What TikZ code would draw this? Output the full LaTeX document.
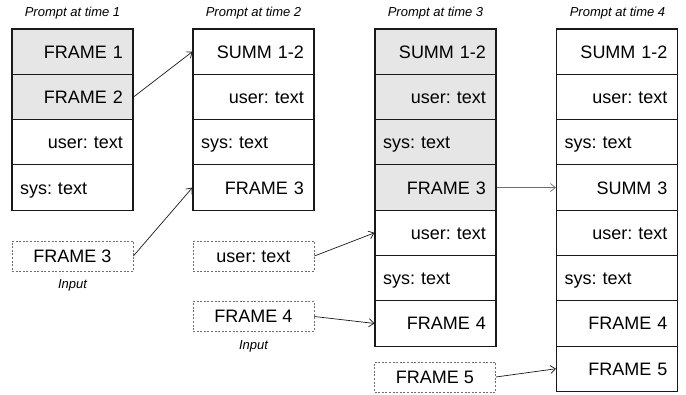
\documentclass[tikz,border=0pt]{standalone}
\usepackage{fontspec}
\setmainfont{Liberation Sans}
\frenchspacing
\usetikzlibrary{arrows.meta}
\definecolor{cellgray}{RGB}{230,230,230}
\definecolor{edgeink}{RGB}{25,25,25}
\definecolor{dashink}{RGB}{110,110,110}
\tikzset{
  cell/.style={draw=edgeink, line width=1.1pt, minimum width=121pt, minimum height=45.3pt,
    inner sep=0pt, font=\fontsize{18}{20}\selectfont, text height=13pt, text depth=0pt},
  rcell/.style={cell, text width=101pt, align=right},
  lcell/.style={cell, text width=105pt, align=left},
  shaded/.style={fill=cellgray},
  inbox/.style={draw=dashink, dash pattern=on 2pt off 1.6pt, line width=0.8pt,
    minimum width=121pt, minimum height=30pt, inner sep=0pt,
    font=\fontsize{18}{20}\selectfont, text height=13pt, text depth=0pt},
  caption/.style={font=\fontsize{13}{15}\selectfont\itshape, inner sep=0pt},
  link/.style={-{Straight Barb[length=5pt,width=8pt]}, line width=0.7pt, draw=edgeink},
}
\begin{document}
\begin{tikzpicture}[x=1pt,y=-1pt]
\useasboundingbox (0,0) rectangle (686,395);

% column titles
\node[caption] (h1) at (72.5,13) {Prompt at time 1};
\node[caption] (h2) at (253.5,13) {Prompt at time 2};
\node[caption] (h3) at (435.5,13) {Prompt at time 3};
\node[caption] (h4) at (617.5,13) {Prompt at time 4};

% prompt at time 1
\node[rcell,shaded] (a1) at (72.5,51.65) {FRAME 1};
\node[rcell,shaded] (a2) at (72.5,96.95) {FRAME 2};
\node[rcell] (a3) at (72.5,142.25) {user: text};
\node[lcell] (a4) at (72.5,187.55) {sys: text};

% prompt at time 2
\node[rcell] (b1) at (253.5,51.65) {SUMM 1-2};
\node[rcell] (b2) at (253.5,96.95) {user: text};
\node[lcell] (b3) at (253.5,142.25) {sys: text};
\node[rcell] (b4) at (253.5,187.55) {FRAME 3};

% prompt at time 3
\node[rcell,shaded] (c1) at (435.5,51.65) {SUMM 1-2};
\node[rcell,shaded] (c2) at (435.5,96.95) {user: text};
\node[lcell,shaded] (c3) at (435.5,142.25) {sys: text};
\node[rcell,shaded] (c4) at (435.5,187.55) {FRAME 3};
\node[rcell] (c5) at (435.5,232.85) {user: text};
\node[lcell] (c6) at (435.5,278.15) {sys: text};
\node[rcell] (c7) at (435.5,323.45) {FRAME 4};

% prompt at time 4
\node[rcell] (d1) at (617,51.65) {SUMM 1-2};
\node[rcell] (d2) at (617,96.95) {user: text};
\node[lcell] (d3) at (617,142.25) {sys: text};
\node[rcell] (d4) at (617,187.55) {SUMM 3};
\node[rcell] (d5) at (617,232.85) {user: text};
\node[lcell] (d6) at (617,278.15) {sys: text};
\node[rcell] (d7) at (617,323.45) {FRAME 4};
\node[rcell] (d8) at (617,368.75) {FRAME 5};

% incoming inputs
\node[inbox] (i1) at (72.5,256) {FRAME 3};
\node[caption] (l1) at (72.5,285.5) {Input};
\node[inbox] (i2) at (253.5,256) {user: text};
\node[inbox] (i3) at (253.5,316.5) {FRAME 4};
\node[caption] (l3) at (253.5,346) {Input};
\node[inbox] (i4) at (435,377) {FRAME 5};

% connectors
\draw[link] (a2.east) -- (b1.west);
\draw[link] (i1.east) -- (b4.west);
\draw[link] (i2.east) -- (c5.west);
\draw[link] (i3.east) -- (c7.west);
\draw[link, draw=dashink] (c4.east) -- (d4.west);
\draw[link] (i4.east) -- (d8.west);
\end{tikzpicture}
\end{document}
